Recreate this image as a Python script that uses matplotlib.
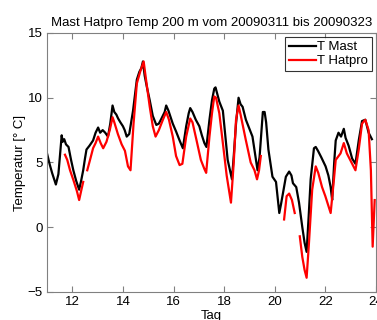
import numpy as np
import matplotlib
matplotlib.use("Agg")
import matplotlib.pyplot as plt

plt.rcParams['font.family'] = ['Liberation Sans', 'DejaVu Sans']

nan = np.nan

# T Mast (black): day of March, temperature in deg C
mast_day = [11.00, 11.10, 11.20, 11.35, 11.45, 11.58, 11.62, 11.68, 11.75, 11.85,
            11.95, 12.04, 12.15, 12.27, 12.35, 12.43, 12.50, 12.56, 12.68, 12.82,
            12.92, 13.02, 13.10, 13.20, 13.30, 13.41, 13.50, 13.59, 13.66, 13.74,
            13.81, 13.90, 14.00, 14.07, 14.15, 14.25, 14.40, 14.55, 14.65, 14.73,
            14.79, 14.86, 14.95, 15.06, 15.18, 15.32, 15.42, 15.50, 15.65, 15.71,
            15.80, 15.97, 16.10, 16.24, 16.37, 16.50, 16.60, 16.66, 16.75, 16.88,
            17.02, 17.12, 17.22, 17.30, 17.42, 17.52, 17.61, 17.66, 17.81, 17.95,
            18.05, 18.14, 18.31, 18.38, 18.47, 18.57, 18.65, 18.73, 18.86, 19.00,
            19.12, 19.22, 19.32, 19.40, 19.53, 19.60, 19.66, 19.75, 19.91, 20.05,
            20.18, 20.25, 20.35, 20.44, 20.57, 20.66, 20.72, 20.85, 20.96, 21.09,
            21.18, 21.26, 21.34, 21.42, 21.55, 21.62, 21.71, 21.84, 22.01, 22.12,
            22.21, 22.27, 22.35, 22.41, 22.52, 22.62, 22.73, 22.80, 22.92, 23.06,
            23.19, 23.32, 23.45, 23.58, 23.71, 23.84]
mast_temp = [5.7, 4.9, 4.2, 3.3, 4.1, 7.1, 6.6, 6.8, 6.4, 6.2,
             5.2, 4.4, 3.6, 2.9, 3.6, 4.4, 5.3, 6.0, 6.3, 6.7,
             7.3, 7.7, 7.3, 7.5, 7.3, 7.0, 8.0, 9.4, 8.9, 8.7,
             8.4, 8.1, 7.8, 7.5, 7.0, 7.2, 9.0, 11.4, 12.0, 12.3,
             12.8, 11.7, 10.8, 9.8, 8.6, 7.9, 8.0, 8.3, 8.9, 9.4,
             9.0, 8.0, 7.4, 6.7, 6.1, 7.8, 8.8, 9.2, 8.9, 8.3,
             7.8, 7.1, 6.5, 6.2, 8.3, 9.8, 10.7, 10.8, 9.7, 9.0,
             7.0, 5.2, 3.7, 5.5, 8.0, 10.0, 9.5, 9.3, 8.3, 7.6,
             7.0, 5.7, 4.4, 5.4, 8.9, 8.9, 8.1, 6.0, 3.9, 3.5,
             1.1, 1.8, 2.9, 3.9, 4.3, 4.0, 3.4, 3.1, 1.9, 0.0,
             -1.2, -1.9, 0.8, 3.7, 6.1, 6.2, 5.9, 5.4, 4.7, 4.0,
             3.1, 2.1, 5.0, 6.7, 7.3, 7.0, 7.6, 6.9, 6.3, 5.3,
             4.9, 6.7, 8.2, 8.3, 7.3, 6.8]

# T Hatpro (red), NaN = no data
hat_day = [11.71, 11.80, 11.91, 12.05, 12.18, 12.27, 12.36, 12.43, 12.50,
           12.59, 12.70, 12.82, 12.92, 13.02, 13.12, 13.22, 13.35, 13.48, 13.59,
           13.66, 13.80, 13.95, 14.08, 14.20, 14.30, 14.42, 14.55, 14.68, 14.82,
           14.90, 15.06, 15.18, 15.29, 15.42, 15.58, 15.71, 15.82, 15.97, 16.10,
           16.24, 16.35, 16.50, 16.66, 16.75, 16.90, 17.08, 17.22, 17.29, 17.42,
           17.52, 17.61, 17.68, 17.81, 17.98, 18.10, 18.27, 18.38, 18.47, 18.57,
           18.65, 18.85, 19.05, 19.20, 19.30, 19.38, 19.45, 19.50,
           20.37, 20.47, 20.57, 20.68, 20.79, 20.85,
           20.99, 21.09, 21.18, 21.26, 21.35, 21.48, 21.62, 21.72, 21.87, 22.00,
           22.21, 22.34, 22.41, 22.60, 22.73, 22.85, 23.06, 23.19, 23.32, 23.45,
           23.58, 23.71, 23.80, 23.87, 23.95]
hat_temp = [5.6, 5.2, 4.4, 3.6, 2.8, 2.1, 2.9, 3.5, nan,
            4.4, 5.2, 6.1, 6.5, 7.0, 6.5, 6.1, 6.6, 7.5, 8.5,
            8.1, 7.2, 6.4, 5.9, 4.7, 4.4, 8.0, 11.1, 12.0, 12.8,
            11.6, 9.3, 7.8, 7.0, 7.5, 8.3, 8.9, 8.3, 7.0, 5.5,
            4.8, 4.9, 7.0, 8.4, 8.1, 6.8, 5.2, 4.5, 4.2, 7.0,
            8.8, 10.1, 10.0, 8.8, 6.0, 4.0, 1.9, 5.0, 8.3, 9.4,
            8.7, 6.8, 5.0, 4.4, 3.7, 4.4, 5.5, nan,
            0.6, 2.4, 2.6, 2.1, 1.1, nan,
            -0.7, -2.3, -3.3, -3.9, -1.3, 2.9, 4.7, 4.2, 3.1, 2.4,
            1.1, 3.7, 5.2, 5.7, 6.5, 5.7, 4.9, 4.4, 6.0, 8.0,
            8.3, 7.5, 4.4, -1.5, 2.1]

xticks = [12, 14, 16, 18, 20, 22, 24]
yticks = [-5, 0, 5, 10, 15]

fig = plt.figure(figsize=(3.77, 3.2), dpi=100)
ax = fig.add_axes([0.1247, 0.0875, 0.8725, 0.8094])
ax.plot(mast_day, mast_temp, color="black", lw=1.6, label="T Mast")
ax.plot(hat_day, hat_temp, color="red", lw=1.6, label="T Hatpro")

ax.set_xlim(11, 24)
ax.set_ylim(-5, 15)
ax.set_xticks(xticks)
ax.set_yticks(yticks)
ax.tick_params(direction="in", top=True, right=True, labelsize=9.5,
               length=4, color="#808080", pad=3)
for s in ax.spines.values():
    s.set_color("#808080")

ax.set_xlabel("Tag", fontsize=9.5, labelpad=1)
ax.set_ylabel("Temperatur [° C]", fontsize=9.5, labelpad=1)
ax.set_title("Mast Hatpro Temp 200 m vom 20090311 bis 20090323", fontsize=9.5, pad=5)

leg = ax.legend(loc="upper right", fontsize=9.5, fancybox=False, handlelength=2.0,
                borderaxespad=0.3, handletextpad=0.1, borderpad=0.3, labelspacing=0.15)
leg.get_frame().set_edgecolor("black")
leg.get_frame().set_linewidth(0.8)

fig.savefig("out.png", dpi=100)
